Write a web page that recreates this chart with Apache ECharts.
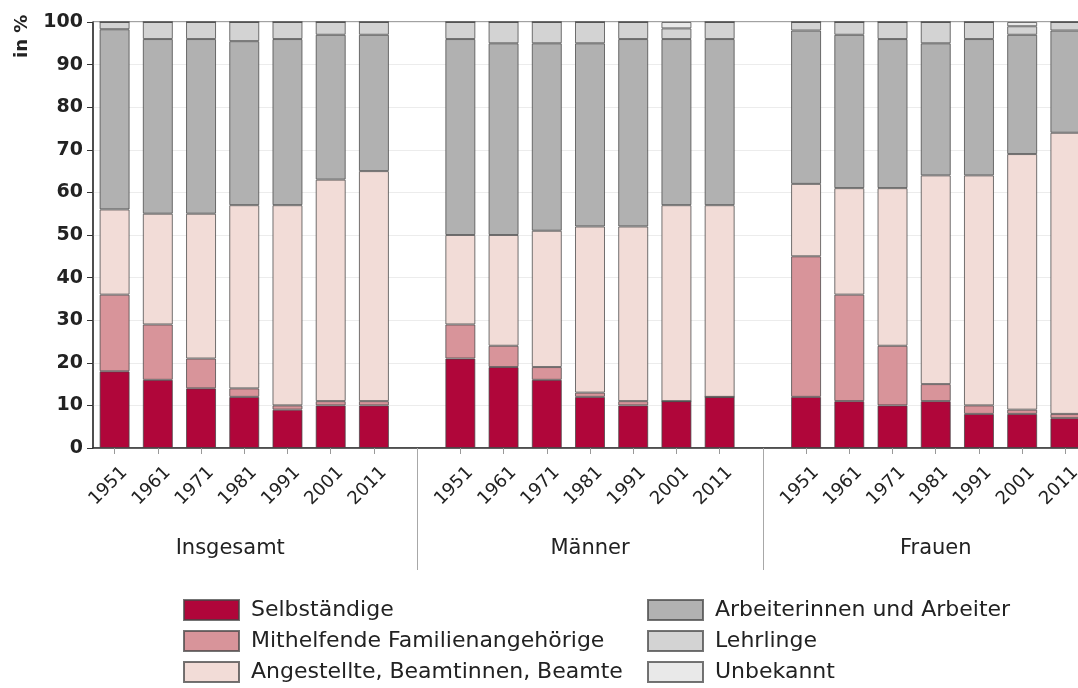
<!DOCTYPE html>
<html>
<head>
<meta charset="utf-8">
<script src="https://cdn.jsdelivr.net/npm/echarts@6/dist/echarts.min.js"></script>
<style>
html,body{margin:0;padding:0;background:#fff;}
#chart{width:1078px;height:688px;}
</style>
</head>
<body>
<div id="chart"></div>
<script>
const years = ['1951','1961','1971','1981','1991','2001','2011'];
const groups = ['Insgesamt','Männer','Frauen'];
const seriesNames = ['Selbständige','Mithelfende Familienangehörige','Angestellte, Beamtinnen, Beamte','Arbeiterinnen und Arbeiter','Lehrlinge','Unbekannt'];
// values per group (Insgesamt, Männer, Frauen), 7 years each
const selbstaendige = [18,16,14,12,9,10,10, 21,19,16,12,10,11,12, 12,11,10,11,8,8,7];
const mithelfende   = [18,13,7,2,1,1,1, 8,5,3,1,1,0,0, 33,25,14,4,2,1,1];
const angestellte   = [20,26,34,43,47,52,54, 21,26,32,39,41,46,45, 17,25,37,49,54,60,66];
const arbeiter      = [42.3,41,41,38.5,39,34,32, 46,45,44,43,44,39,39, 36,36,35,31,32,28,24];
const lehrlinge     = [1.7,4,4,4.5,4,3,3, 4,5,5,5,4,2.5,4, 2,3,4,5,4,2,2];
const unbekannt     = [0,0,0,0,0,0,0, 0,0,0,0,0,1.5,0, 0,0,0,0,0,1,0];
const colors = ['#b0063a','#d8949a','#f2dcd7','#b1b1b1','#d3d3d3','#e9e9e9'];

// build category slots: 7 years per group, one empty slot between groups
const cats = [];
const gapIdx = [];
const centerIdx = {};
groups.forEach((g, gi) => {
  years.forEach((y, yi) => {
    if (yi === 3) centerIdx[cats.length] = gi;
    cats.push(g + '|' + y);
  });
  if (gi < groups.length - 1) { gapIdx.push(cats.length); cats.push('gap' + gi); }
});
function expand(arr) {
  const out = [];
  groups.forEach((g, gi) => {
    for (let i = 0; i < years.length; i++) out.push(arr[gi * years.length + i]);
    if (gi < groups.length - 1) out.push(null);
  });
  return out;
}
const allData = [selbstaendige, mithelfende, angestellte, arbeiter, lehrlinge, unbekannt];
const FONT = '"DejaVu Sans", "Liberation Sans", Arial, sans-serif';

const series = seriesNames.map((n, i) => ({
  name: n,
  type: 'bar',
  stack: 'total',
  barWidth: 30,
  xAxisIndex: 0,
  data: expand(allData[i]),
  itemStyle: { color: colors[i], borderColor: 'rgba(70,70,70,0.75)', borderWidth: 1 },
  emphasis: { disabled: true }
}));

const chart = echarts.init(document.getElementById('chart'), null, { renderer: 'canvas' });
chart.setOption({
  animation: false,
  textStyle: { fontFamily: FONT },
  grid: { left: 93, top: 22, bottom: 240, right: -9, outerBoundsMode: 'none', containLabel: false, show: true, borderColor: '#444', borderWidth: 1, backgroundColor: 'transparent' },
  graphic: [{
    type: 'text', x: 13, y: 58, rotation: Math.PI / 2,
    style: { text: 'in %', fontSize: 18, fontWeight: 'bold', fill: '#222', fontFamily: FONT }
  }],
  xAxis: [{
    type: 'category',
    data: cats,
    position: 'bottom',
    axisLine: { show: true, lineStyle: { color: '#333', width: 1.5 } },
    axisTick: { show: true, alignWithLabel: true, interval: 0, length: 6, lineStyle: { color: '#999' } },
    axisLabel: {
      interval: 0, rotate: 45, margin: 12, fontSize: 18, color: '#222', fontFamily: FONT,
      verticalAlign: 'top', lineHeight: 28,
      formatter: v => (v.indexOf('|') >= 0 ? v.split('|')[1] : '')
    },
    splitLine: { show: false }
  }, {
    type: 'category',
    data: cats,
    position: 'bottom',
    axisLine: { show: false },
    axisTick: { show: true, alignWithLabel: true, interval: (i) => gapIdx.indexOf(i) >= 0, length: 122, lineStyle: { color: '#a8a8a8' } },
    axisLabel: {
      interval: (i) => centerIdx[i] !== undefined, margin: 90, fontSize: 21, color: '#222', fontFamily: FONT,
      formatter: (v, i) => {
        const gi = centerIdx[i];
        if (gi === undefined) return '';
        return gi === 0 ? '{a|' + groups[gi] + '}' : groups[gi];
      },
      rich: { a: { fontSize: 21, color: '#222', fontFamily: FONT, padding: [0, 28, 0, 0] } }
    },
    splitLine: { show: false }
  }],
  yAxis: {
    type: 'value', min: 0, max: 100, interval: 10,
    axisLine: { show: true, lineStyle: { color: '#333', width: 1.5 } },
    axisTick: { show: true, length: 6, lineStyle: { color: '#333' } },
    axisLabel: { fontSize: 19, fontWeight: 'bold', color: '#222', margin: 10, fontFamily: FONT },
    splitLine: { show: true, lineStyle: { color: '#ececec', width: 1 } }
  },
  legend: [{
    data: seriesNames.slice(0, 3),
    orient: 'vertical', left: 183, top: 599, height: 89, padding: 0,
    itemWidth: 55, itemHeight: 20, itemGap: 9,
    icon: 'rect',
    textStyle: { fontSize: 22, lineHeight: 20, color: '#222', fontFamily: FONT, padding: [0, 0, 0, 7] },
    selectedMode: false
  }, {
    data: seriesNames.slice(3),
    orient: 'vertical', left: 647, top: 599, height: 89, padding: 0,
    itemWidth: 55, itemHeight: 20, itemGap: 9,
    icon: 'rect',
    textStyle: { fontSize: 22, lineHeight: 20, color: '#222', fontFamily: FONT, padding: [0, 0, 0, 7] },
    selectedMode: false
  }],
  series: series
});
</script>
</body>
</html>
